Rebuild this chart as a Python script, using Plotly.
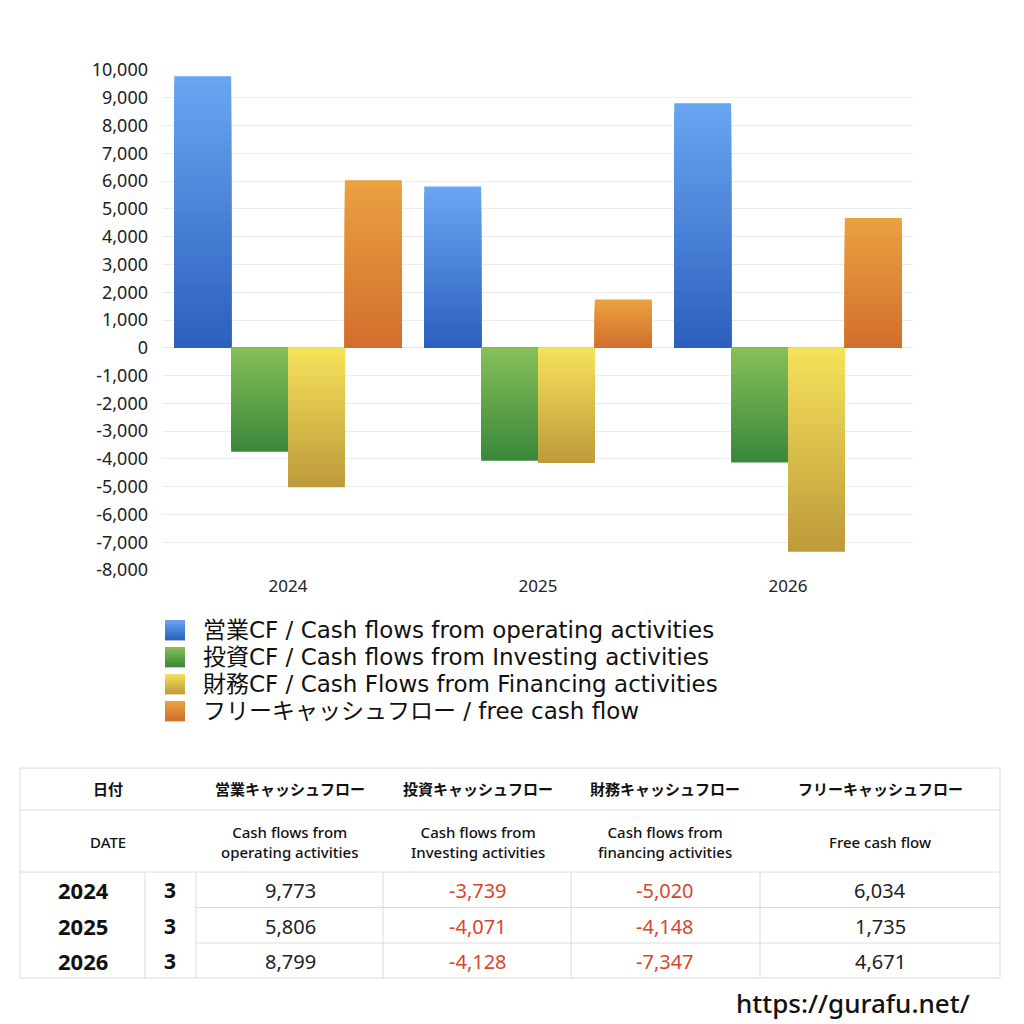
import plotly.graph_objects as go

# ---------------- data ----------------
years = ["2024", "2025", "2026"]
months = ["3", "3", "3"]
operating_cf = [9773, 5806, 8799]
investing_cf = [-3739, -4071, -4128]
financing_cf = [-5020, -4148, -7347]
free_cf = [6034, 1735, 4671]

series_names = [
    "営業CF / Cash flows from operating activities",
    "投資CF / Cash flows from Investing activities",
    "財務CF / Cash Flows from Financing activities",
    "フリーキャッシュフロー / free cash flow",
]
table_head_jp = ["日付", "営業キャッシュフロー", "投資キャッシュフロー", "財務キャッシュフロー", "フリーキャッシュフロー"]
table_head_en = ["DATE", "Cash flows from<br>operating activities", "Cash flows from<br>Investing activities",
                 "Cash flows from<br>financing activities", "Free cash flow"]
y_ticks = list(range(-8000, 10001, 1000))
y_tick_text = [f"{v:,}" for v in y_ticks]

# ---------------- styles ----------------
# (top colour, bottom colour) of the vertical gradient of each series
grad = [
    ((106, 166, 242), (43, 95, 189)),
    ((134, 192, 90), (58, 135, 58)),
    ((246, 226, 90), (189, 154, 60)),
    ((234, 162, 64), (210, 110, 45)),
]
FONT = "Noto Sans, Noto Sans CJK JP"
LEG_FONT = "DejaVu Sans, Noto Sans CJK JP"
N = 30

def mix(c1, c2, t):
    return "rgb(%d,%d,%d)" % tuple(round(a + (b - a) * t) for a, b in zip(c1, c2))

fig = go.Figure()
all_series = [operating_cf, investing_cf, financing_cf, free_cf]
for si, vals in enumerate(all_series):
    top, bot = grad[si]
    for k in range(N):
        frac = (N - k) / N
        seg_mid = (N - k - 0.5) / N  # fraction of |v| from the baseline
        colors = []
        for v in vals:
            if v >= 0:
                colors.append(mix(bot, top, seg_mid))
            else:
                colors.append(mix(top, bot, seg_mid))
        fig.add_trace(go.Bar(
            x=years, y=[v * frac for v in vals],
            offsetgroup=str(si), name=series_names[si],
            marker=dict(color=colors, line=dict(width=0)),
            showlegend=False, hoverinfo="skip",
        ))

# pixel helpers for paper coordinates
PX0, PX1, PY0, PY1 = 163, 913, 70, 570
def fx(p):
    return (p - PX0) / (PX1 - PX0)
def fy(p):
    return (PY1 - p) / (PY1 - PY0)

shapes = []
annotations = []

# ---------------- legend (manual) ----------------
leg_rows = [630, 657, 684, 711]
for i, name in enumerate(series_names):
    top, bot = grad[i]
    yc = leg_rows[i]
    steps = 10
    for s in range(steps):
        y_a = yc - 10 + s * 20 / steps
        y_b = y_a + 20 / steps + 0.4
        shapes.append(dict(type="rect", xref="paper", yref="paper",
                           x0=fx(165), x1=fx(185), y0=fy(y_a), y1=fy(y_b),
                           fillcolor=mix(top, bot, (s + 0.5) / steps), line=dict(width=0)))
    annotations.append(dict(xref="paper", yref="paper", x=fx(201), y=fy(yc),
                            xanchor="left", yanchor="middle", showarrow=False,
                            text=name, font=dict(family=LEG_FONT, size=23, color="#111")))

# ---------------- table ----------------
line_col = "#dcdcdc"
TL, TR = 20, 1000
def hline(y, x0=TL, x1=TR):
    shapes.append(dict(type="line", xref="paper", yref="paper", x0=fx(x0), x1=fx(x1),
                       y0=fy(y), y1=fy(y), line=dict(color=line_col, width=1)))
def vline(x, y0, y1):
    shapes.append(dict(type="line", xref="paper", yref="paper", x0=fx(x), x1=fx(x),
                       y0=fy(y0), y1=fy(y1), line=dict(color=line_col, width=1)))

hline(768); hline(810); hline(872); hline(978)
hline(907.5, 196); hline(943, 196)
vline(TL, 768, 978); vline(TR, 768, 978)
for xv in [145, 196, 383, 571, 760]:
    vline(xv, 872, 978)

col_centers = [108, 290, 478, 665, 880]
for c, t in zip(col_centers, table_head_jp):
    annotations.append(dict(xref="paper", yref="paper", x=fx(c), y=fy(789), xanchor="center",
                            yanchor="middle", showarrow=False, text=f"<b>{t}</b>",
                            font=dict(family=FONT, size=15, color="#111")))
for c, t in zip(col_centers, table_head_en):
    annotations.append(dict(xref="paper", yref="paper", x=fx(c), y=fy(842), xanchor="center",
                            yanchor="middle", showarrow=False, text=t,
                            font=dict(family=FONT, size=15, color="#111", weight=500)))

row_y = [890, 926, 961]
for r in range(len(years)):
    annotations.append(dict(xref="paper", yref="paper", x=fx(83), y=fy(row_y[r]), xanchor="center",
                            yanchor="middle", showarrow=False, text=f"<b>{years[r]}</b>",
                            font=dict(family=FONT, size=22, color="#111")))
    annotations.append(dict(xref="paper", yref="paper", x=fx(170), y=fy(row_y[r]), xanchor="center",
                            yanchor="middle", showarrow=False, text=f"<b>{months[r]}</b>",
                            font=dict(family=FONT, size=21, color="#111")))
    for ci, vals in enumerate(all_series):
        v = vals[r]
        annotations.append(dict(xref="paper", yref="paper", x=fx(col_centers[ci + 1]), y=fy(row_y[r]),
                                xanchor="center", yanchor="middle", showarrow=False, text=f"{v:,}",
                                font=dict(family=FONT, size=20,
                                          color="#d9452c" if v < 0 else "#222")))

annotations.append(dict(xref="paper", yref="paper", x=fx(853), y=fy(1003), xanchor="center",
                        yanchor="middle", showarrow=False, text="https://gurafu.net/",
                        font=dict(family=FONT, size=26, color="#111", weight=500)))

fig.update_layout(
    width=1024, height=1024,
    margin=dict(l=163, r=111, t=70, b=454),
    paper_bgcolor="white", plot_bgcolor="white",
    barmode="group", bargap=0.09, bargroupgap=0,
    showlegend=False,
    font=dict(family=FONT, color="#222"),
    xaxis=dict(showgrid=False, showline=False, ticks="", tickfont=dict(size=17, color="#222"),
               ticklabelstandoff=4, fixedrange=True),
    yaxis=dict(range=[-8000, 10000], tickvals=y_ticks, ticktext=y_tick_text,
               gridcolor="#ececec", gridwidth=1, zeroline=True, zerolinecolor="#e4e4e4",
               zerolinewidth=1, showline=False, ticks="", ticklabelstandoff=14,
               tickfont=dict(size=18, color="#222"), fixedrange=True),
    shapes=shapes, annotations=annotations,
)

fig.write_html("out.html")
